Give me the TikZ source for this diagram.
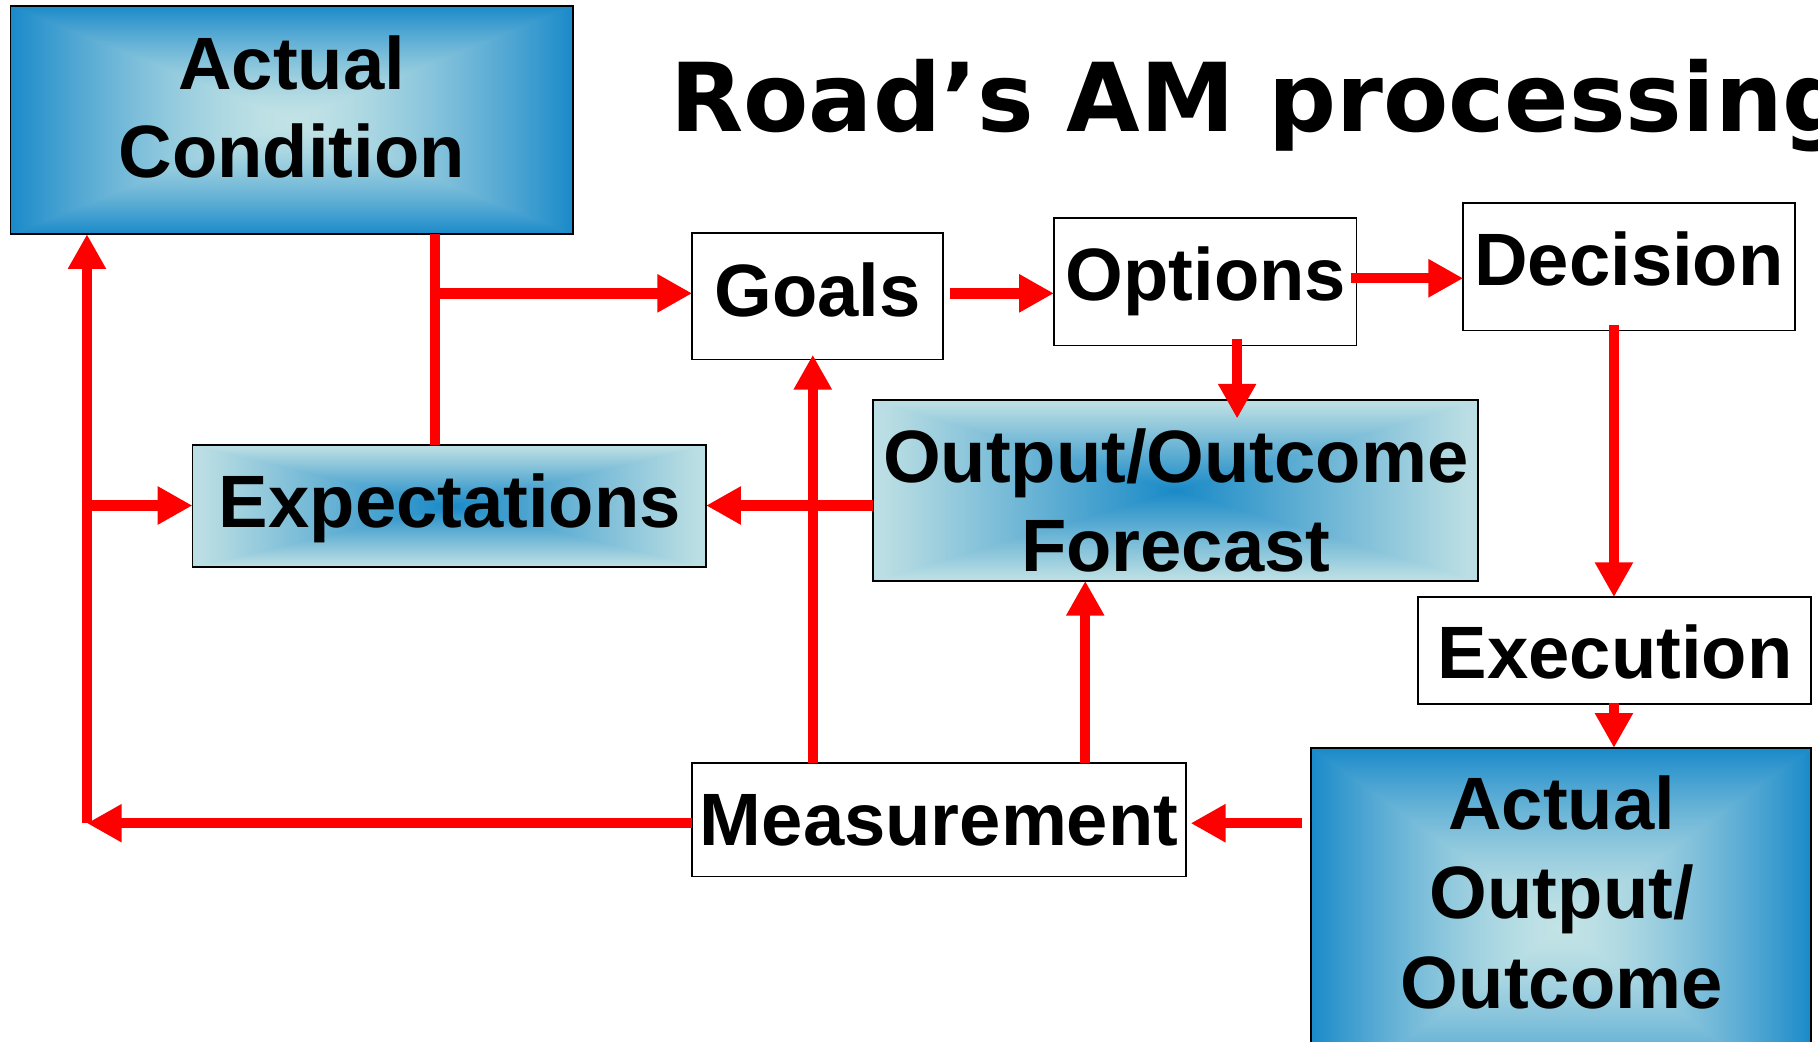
\documentclass[tikz,border=0pt]{standalone}
\usepackage{fontspec}
\setmainfont{Liberation Sans}
\newfontfamily\titlefont{DejaVu Sans}
\usetikzlibrary{arrows.meta}
\pgfdeclarefunctionalshading{rectgrad}{\pgfpoint{-50bp}{-50bp}}{\pgfpoint{50bp}{50bp}}{}{
abs exch abs 2 copy gt {pop} {exch pop} ifelse 25 div dup 1 gt {pop 1} if dup sqrt mul
dup -0.66 mul 0.76 add exch dup -0.35 mul 0.89 add exch -0.11 mul 0.90 add
}
\pgfdeclarefunctionalshading{ellgrad}{\pgfpoint{-50bp}{-50bp}}{\pgfpoint{50bp}{50bp}}{}{
abs exch abs 2 copy gt {pop} {exch pop} ifelse 24 div dup 1 gt {pop 1} if
dup 0.63 mul 0.10 add exch dup 0.33 mul 0.54 add exch 0.11 mul 0.78 add
}
\tikzset{
  plainbox/.style={draw=black, line width=1.5pt, fill=white, rectangle, inner sep=0pt, outer sep=0pt, anchor=north west},
  darkbox/.style={draw=black, line width=1.5pt, shading=rectgrad, rectangle, inner sep=0pt, outer sep=0pt, anchor=north west},
  lightbox/.style={draw=black, line width=1.5pt, shading=ellgrad, rectangle, inner sep=0pt, outer sep=0pt, anchor=north west},
  lbl/.style={font=\bfseries\fontsize{64}{77}\selectfont, inner sep=0pt, outer sep=0pt, anchor=base, text=black},
  conn/.style={draw=red, line width=9pt},
  arr/.style={draw=red, line width=9pt, -{Triangle[length=30pt,width=31pt]}}
}
\begin{document}
\begin{tikzpicture}[x=1pt,y=-1pt]
\path[use as bounding box] (0,0) rectangle (1568,898);
\clip (0,0) rectangle (1568,898);

% title
\node[anchor=base west, inner sep=0pt, font=\titlefont\bfseries\fontsize{82}{98}\selectfont] (title) at (578,113) {Road’s AM processing};

% boxes
\node[darkbox, minimum width=485pt, minimum height=197pt] (ac) at (9,5) {};
\node[plainbox, minimum width=216pt, minimum height=109pt] (goals) at (597,201) {};
\node[plainbox, minimum width=261pt, minimum height=110pt] (opt) at (909,188) {};
\node[plainbox, minimum width=286pt, minimum height=110pt] (dec) at (1262,175) {};
\node[lightbox, minimum width=522pt, minimum height=156pt] (fc) at (753,345) {};
\node[lightbox, minimum width=443pt, minimum height=105pt] (exp) at (166,384) {};
\node[plainbox, minimum width=339pt, minimum height=92pt] (exe) at (1223,515) {};
\node[darkbox, minimum width=431pt, minimum height=310pt] (ao) at (1131,645) {};
\node[plainbox, minimum width=426pt, minimum height=98pt] (meas) at (597,658) {};

% texts
\node[lbl] (acT1) at (251.5,77.6) {Actual};
\node[lbl] (acT2) at (251.5,153.5) {Condition};
\node[lbl] (goalsT) at (705,272.6) {Goals};
\node[lbl] (optT) at (1040,259.6) {Options};
\node[lbl] (decT) at (1405,246.4) {Decision};
\node[lbl] (fcT1) at (1014,416) {Output/Outcome};
\node[lbl] (fcT2) at (1014,493) {Forecast};
\node[lbl] (expT) at (388,455) {Expectations};
\node[lbl] (exeT) at (1393,585) {Execution};
\node[lbl] (measT) at (810,729) {Measurement};
\node[lbl] (aoT1) at (1347,715) {Actual};
\node[lbl] (aoT2) at (1347,792.6) {Output/};
\node[lbl] (aoT3) at (1347,869.6) {Outcome};

% connector coordinates
\coordinate (cA) at (375,253);
\coordinate (cG) at (819,253);
\coordinate (cO) at (1165,240);
\coordinate (cOF) at (1067,292);
\coordinate (cD) at (1392,280);
\coordinate (cE) at (1392,606);
\coordinate (cAO) at (1123,710);
\coordinate (cM) at (75,710);
\coordinate (cX) at (75,436);
\coordinate (cMG) at (701,0);
\coordinate (cMF) at (936,0);

% connectors
\draw[conn] (ac.south -| cA) -- (exp.north -| cA);
\draw[arr] (cA) -- (goals.west |- cA);
\draw[arr] (cG) -- (opt.west |- cG);
\draw[arr] (cO) -- (dec.west |- cO);
\draw[arr] (cOF) -- ([yshift=-16pt]fc.north -| cOF);
\draw[arr] (cD) -- (exe.north -| cD);
\draw[arr] (cE) -- (ao.north -| cE);
\draw[arr] (cAO) -- ([xshift=4pt]meas.east |- cAO);
\draw[arr] (meas.west |- cM) -- (cM);
\draw[arr] (cM) -- (ac.south -| cM);
\draw[arr] (cX) -- (exp.west |- cX);
\draw[arr] (fc.west |- cX) -- (exp.east |- cX);
\draw[arr] (meas.north -| cMG) -- ([yshift=4pt]goals.south -| cMG);
\draw[arr] (meas.north -| cMF) -- (fc.south -| cMF);
\end{tikzpicture}
\end{document}
